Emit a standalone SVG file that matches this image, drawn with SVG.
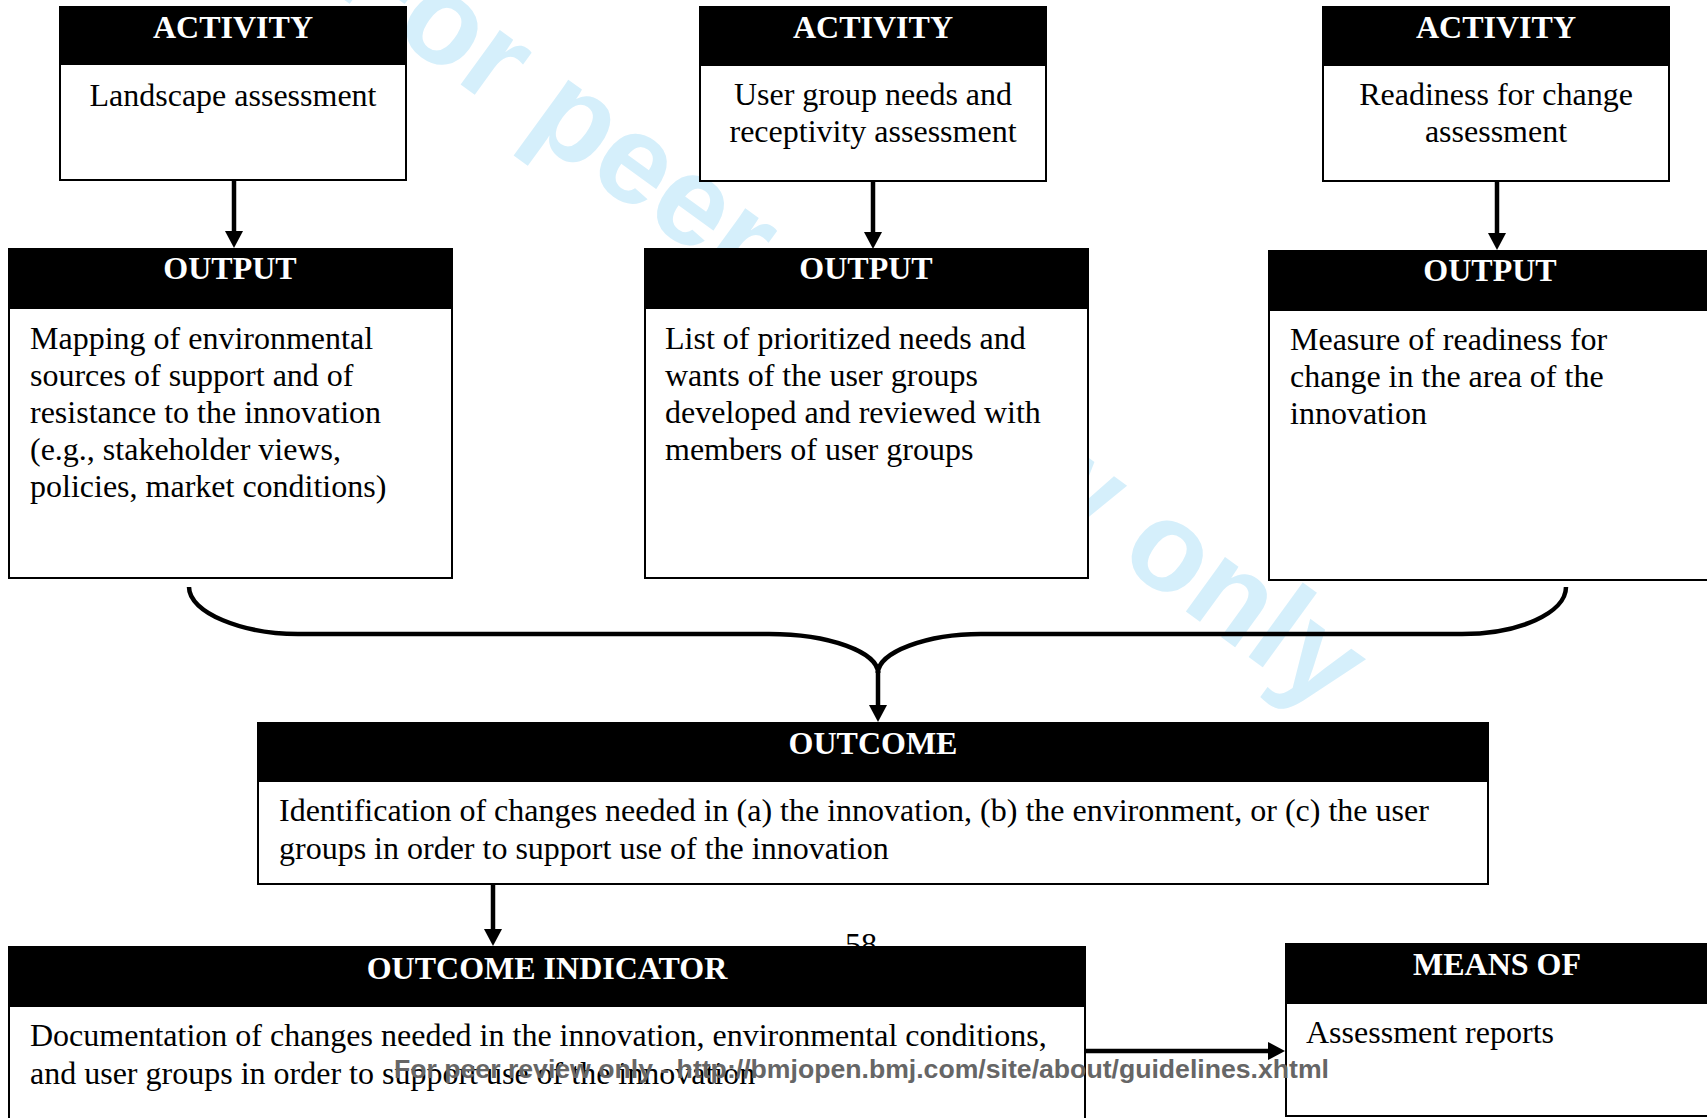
<svg xmlns="http://www.w3.org/2000/svg" width="1707" height="1118" viewBox="0 0 1707 1118">
<style>
.box{fill:#fff;stroke:#000;stroke-width:2}
.hdr{fill:#000}
.ht{font-family:"Liberation Serif","Times New Roman",serif;font-weight:bold;font-size:32px;fill:#fff;text-anchor:middle}
.bt{font-family:"Liberation Serif","Times New Roman",serif;font-size:32px;fill:#000}
.c{text-anchor:middle}
.con{fill:none;stroke:#000;stroke-width:4.5}
.wm{font-family:"Liberation Sans",Arial,sans-serif;font-weight:bold;font-size:127px;fill:#d5effb}
.ft{font-family:"Liberation Sans",Arial,sans-serif;font-weight:bold;font-size:25px;fill:#666}
</style>
<defs>
<marker id="ah" viewBox="0 0 17 18" refX="5" refY="9" markerWidth="17" markerHeight="18" markerUnits="userSpaceOnUse" orient="auto">
<path d="M0,0 L17,9 L0,18 z" fill="#000"/>
</marker>
</defs>
<rect width="1707" height="1118" fill="#fff"/>
<text class="wm" transform="translate(328,-12) rotate(36)">For peer review only</text>
<text class="bt c" x="861" y="955">58</text>

<g id="connectors">
<line class="con" x1="234" y1="181" x2="234" y2="236" marker-end="url(#ah)"/>
<line class="con" x1="873" y1="182" x2="873" y2="237" marker-end="url(#ah)"/>
<line class="con" x1="1497" y1="182" x2="1497" y2="238" marker-end="url(#ah)"/>
<path class="con" d="M189,587 C189,613 243,634 298,634 L769,634 C829,634 878,652 878,673"/>
<path class="con" d="M1566,587 C1566,613 1519,634 1462,634 L981,634 C927,634 878,652 878,673"/>
<line class="con" x1="878" y1="671" x2="878" y2="710" marker-end="url(#ah)"/>
<line class="con" x1="493" y1="885" x2="493" y2="934" marker-end="url(#ah)"/>
<line class="con" x1="1086" y1="1051" x2="1273" y2="1051" marker-end="url(#ah)"/>
</g>

<g id="activity1">
<rect class="box" x="60" y="7" width="346" height="173"/>
<rect class="hdr" x="59" y="6" width="348" height="59"/>
<text class="ht" x="233" y="38">ACTIVITY</text>
<text class="bt c" x="233" y="106">Landscape assessment</text>
</g>
<g id="activity2">
<rect class="box" x="700" y="7" width="346" height="174"/>
<rect class="hdr" x="699" y="6" width="348" height="60"/>
<text class="ht" x="873" y="38">ACTIVITY</text>
<text class="bt c" x="873" y="105">User group needs and</text>
<text class="bt c" x="873" y="142">receptivity assessment</text>
</g>
<g id="activity3">
<rect class="box" x="1323" y="7" width="346" height="174"/>
<rect class="hdr" x="1322" y="6" width="348" height="60"/>
<text class="ht" x="1496" y="38">ACTIVITY</text>
<text class="bt c" x="1496" y="105">Readiness for change</text>
<text class="bt c" x="1496" y="142">assessment</text>
</g>

<g id="output1">
<rect class="box" x="9" y="249" width="443" height="329"/>
<rect class="hdr" x="8" y="248" width="445" height="61"/>
<text class="ht" x="230" y="279">OUTPUT</text>
<text class="bt" x="30" y="349">Mapping of environmental</text>
<text class="bt" x="30" y="386">sources of support and of</text>
<text class="bt" x="30" y="423">resistance to the innovation</text>
<text class="bt" x="30" y="460">(e.g., stakeholder views,</text>
<text class="bt" x="30" y="497">policies, market conditions)</text>
</g>
<g id="output2">
<rect class="box" x="645" y="249" width="443" height="329"/>
<rect class="hdr" x="644" y="248" width="445" height="61"/>
<text class="ht" x="866" y="279">OUTPUT</text>
<text class="bt" x="665" y="349">List of prioritized needs and</text>
<text class="bt" x="665" y="386">wants of the user groups</text>
<text class="bt" x="665" y="423">developed and reviewed with</text>
<text class="bt" x="665" y="460">members of user groups</text>
</g>
<g id="output3">
<rect class="box" x="1269" y="251" width="443" height="329"/>
<rect class="hdr" x="1268" y="250" width="445" height="61"/>
<text class="ht" x="1490" y="281">OUTPUT</text>
<text class="bt" x="1290" y="350">Measure of readiness for</text>
<text class="bt" x="1290" y="387">change in the area of the</text>
<text class="bt" x="1290" y="424">innovation</text>
</g>

<g id="outcome">
<rect class="box" x="258" y="723" width="1230" height="161"/>
<rect class="hdr" x="257" y="722" width="1232" height="60"/>
<text class="ht" x="873" y="754">OUTCOME</text>
<text class="bt" x="279" y="821">Identification of changes needed in (a) the innovation, (b) the environment, or (c) the user</text>
<text class="bt" x="279" y="859">groups in order to support use of the innovation</text>
</g>

<g id="outcome-indicator">
<rect class="box" x="9" y="947" width="1076" height="190"/>
<rect class="hdr" x="8" y="946" width="1078" height="61"/>
<text class="ht" x="547" y="979">OUTCOME INDICATOR</text>
<text class="bt" x="30" y="1046">Documentation of changes needed in the innovation, environmental conditions,</text>
<text class="bt" x="30" y="1084">and user groups in order to support use of the innovation</text>
</g>

<g id="means-of">
<rect class="box" x="1286" y="944" width="422" height="172"/>
<rect class="hdr" x="1285" y="943" width="424" height="61"/>
<text class="ht" x="1497" y="975">MEANS OF</text>
<text class="bt" x="1306" y="1043">Assessment reports</text>
</g>

<text class="ft" x="394" y="1078" textLength="935" lengthAdjust="spacingAndGlyphs">For peer review only - http://bmjopen.bmj.com/site/about/guidelines.xhtml</text>
</svg>
